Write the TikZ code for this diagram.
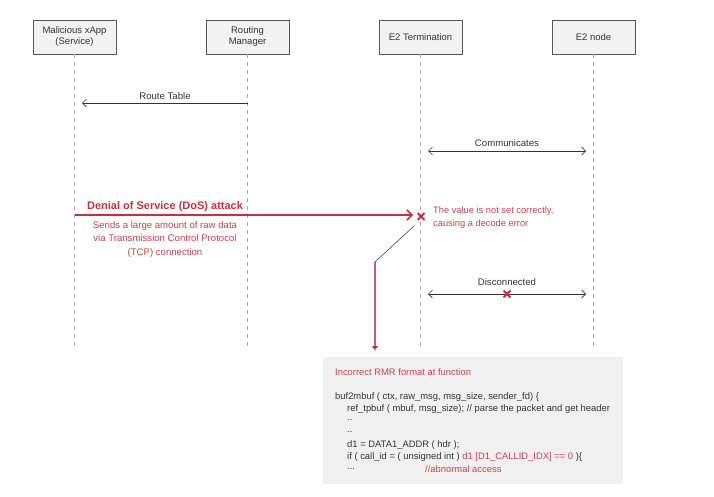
\documentclass[tikz,border=0pt]{standalone}
\usepackage{fontspec}
\setmainfont{Liberation Sans}
\usetikzlibrary{arrows.meta}
\definecolor{boxfill}{HTML}{F2F2F2}
\definecolor{boxline}{HTML}{555555}
\definecolor{life}{HTML}{A8A8A8}
\definecolor{attack}{HTML}{C4303E}
\definecolor{pinkline}{HTML}{D05A66}
\definecolor{redtext}{HTML}{C8414B}
\definecolor{txt}{HTML}{333333}
\definecolor{codebg}{HTML}{F0F0F0}
\tikzset{
  x=1pt, y=-1pt,
  >={Straight Barb[length=4pt,width=8pt]},
  actor/.style={draw=boxline, fill=boxfill, line width=0.8pt, minimum width=83pt, minimum height=34pt, align=center, font=\fontsize{9.5}{11}\selectfont, text=txt, inner sep=0pt},
  lifeline/.style={draw=life, dashed, dash pattern=on 4pt off 4pt, line width=0.9pt},
  msg/.style={draw=txt, line width=0.6pt},
  lbl/.style={font=\fontsize{9.6}{11}\selectfont, text=txt, inner sep=0pt},
  redlbl/.style={text=redtext, inner sep=0pt},
  code/.style={font=\fontsize{9.4}{11}\selectfont, text=txt, anchor=west, inner sep=0pt},
  xmark/.style={draw=attack, line width=2pt}
}
\begin{document}
\begin{tikzpicture}
\useasboundingbox[fill=white] (0,0) rectangle (714,496);
% actors
\node[actor] (xapp) at (74.5,37) {Malicious xApp\\(Service)};
\node[actor] (rm) at (247.5,37) {Routing\\Manager};
\node[actor] (e2t) at (420.5,37) {E2 Termination};
\node[actor] (e2n) at (593.5,37) {E2 node};
% lifeline ends
\coordinate (xappE) at (74.5,348);
\coordinate (rmE) at (247.5,348);
\coordinate (e2tE) at (420.5,348);
\coordinate (e2nE) at (593.5,348);
\draw[lifeline] (xapp.south) -- (xappE);
\draw[lifeline] (rm.south) -- (rmE);
\draw[lifeline] (e2t.south) -- (e2tE);
\draw[lifeline] (e2n.south) -- (e2nE);
% route table
\coordinate (rtS) at (247.5,103);
\coordinate (rtE) at (82,103);
\draw[msg,->] (rtS) -- (rtE);
\node[lbl] (rtl) at (165,96) {Route Table};
% communicates
\coordinate (cmS) at (428,151);
\coordinate (cmE) at (586,151);
\draw[msg,<->] (cmS) -- (cmE);
\node[lbl] (cml) at (507,143) {Communicates};
% DoS
\coordinate (dosS) at (74.5,215);
\coordinate (dosE) at (413,215);
\draw[draw=attack, line width=1.3pt, -{Straight Barb[length=5pt,width=10pt,line width=1.5pt,color=attack]}] (dosS) -- (dosE);
\node[font=\bfseries\fontsize{11}{12}\selectfont, text=attack, inner sep=0pt] (dosl) at (165,207) {Denial of Service (DoS) attack};
\node[redlbl, align=center, font=\fontsize{9.6}{13.5}\selectfont] (dosd) at (165,239.5) {Sends a large amount of raw data\\via Transmission Control Protocol\\(TCP) connection};
\coordinate (x1) at (421,216.5);
\draw[xmark] ([shift={(-3.5,-3.5)}]x1) -- ([shift={(3.5,3.5)}]x1) ([shift={(-3.5,3.5)}]x1) -- ([shift={(3.5,-3.5)}]x1);
\node[redlbl, align=left, anchor=west, font=\fontsize{9.3}{13}\selectfont] (err) at (433,217.5) {The value is not set correctly,\\causing a decode error};
% down arrow to code box
\coordinate (bend) at (375,262);
\coordinate (dnE) at (375,350);
\draw[draw=txt, line width=0.5pt] (414,226) -- (bend);
\draw[draw=pinkline, line width=1.2pt, -{Triangle[length=4pt,width=6pt,color=attack]}] (bend) -- (dnE);
% disconnected
\coordinate (dcS) at (428,294);
\coordinate (dcE) at (586,294);
\draw[msg,<->] (dcS) -- (dcE);
\node[lbl] (dcl) at (507,282) {Disconnected};
\coordinate (x2) at (507,294);
\draw[xmark] ([shift={(-3.5,-3.5)}]x2) -- ([shift={(3.5,3.5)}]x2) ([shift={(-3.5,3.5)}]x2) -- ([shift={(3.5,-3.5)}]x2);
% code box
\node[fill=codebg, minimum width=300pt, minimum height=127pt, anchor=north west, inner sep=0pt] (codebox) at (323,357) {};
\node[code, text=redtext] (c0) at (335,372) {Incorrect RMR format at function};
\node[code] (c1) at (335,397) {buf2mbuf ( ctx, raw\_msg, msg\_size, sender\_fd) \{};
\node[code] (c2) at (347,409) {ref\_tpbuf ( mbuf, msg\_size); // parse the packet and get header};
\node[code] (c3) at (347,420) {..};
\node[code] (c4) at (347,432) {..};
\node[code] (c5) at (347,445) {d1 = DATA1\_ADDR ( hdr );};
\node[code] (c6) at (347,457) {if ( call\_id = ( unsigned int ) \textcolor{redtext}{d1 [D1\_CALLID\_IDX] == 0} )\{};
\node[code] (c7) at (347,469) {...};
\node[code, text=redtext] (c8) at (425,469) {//abnormal access};
\end{tikzpicture}
\end{document}
